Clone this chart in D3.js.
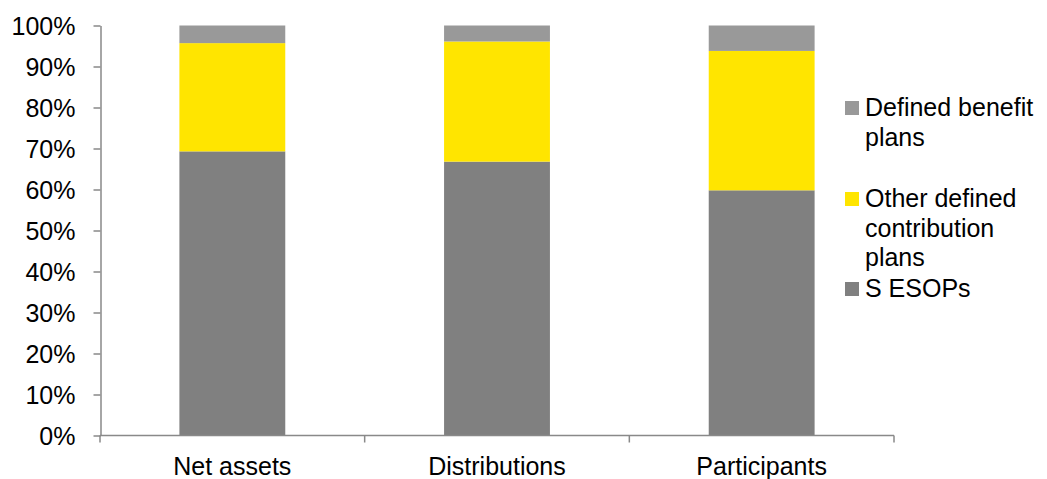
<!DOCTYPE html>
<html>
<head>
<meta charset="utf-8">
<script src="https://cdn.jsdelivr.net/npm/d3@7"></script>
<style>
  body { margin: 0; background: #fff; }
  svg { font-family: "Liberation Sans", Arial, sans-serif; }
</style>
</head>
<body>
<svg id="chart" width="1047" height="479"></svg>
<script>
// Share of each plan type, by measure (percent)
const categories = ["Net assets", "Distributions", "Participants"];
const sEsops = [69.3, 66.8, 59.8];
const otherDC = [26.4, 29.3, 34.0];
const definedBenefit = [4.3, 3.9, 6.2];
const yTicks = [0, 10, 20, 30, 40, 50, 60, 70, 80, 90, 100];

const seriesNames = ["S ESOPs", "Other defined contribution plans", "Defined benefit plans"];
const seriesColors = ["#808080", "#FFE500", "#999999"];

const rows = categories.map((c, i) => ({
  category: c,
  "S ESOPs": sEsops[i],
  "Other defined contribution plans": otherDC[i],
  "Defined benefit plans": definedBenefit[i]
}));

const svg = d3.select("#chart");
const axisColor = "#898989";
const fontSize = "25px";

const x = d3.scaleBand().domain(categories).range([100, 894]).paddingInner(0.6).paddingOuter(0.3);
const y = d3.scaleLinear().domain([0, 100]).range([435.5, 25.5]);

const layers = d3.stack().keys(seriesNames)(rows);

svg.append("g")
  .selectAll("g")
  .data(layers)
  .join("g")
  .attr("fill", (d, i) => seriesColors[i])
  .selectAll("rect")
  .data(d => d)
  .join("rect")
  .attr("x", d => x(d.data.category))
  .attr("width", x.bandwidth())
  .attr("y", d => y(d[1]))
  .attr("height", d => y(d[0]) - y(d[1]));

// Y axis
const yAxis = svg.append("g")
  .attr("transform", "translate(100.5,0)")
  .call(d3.axisLeft(y).tickValues(yTicks).tickFormat(d => d + "%").tickSize(7).tickSizeOuter(0));
yAxis.select(".domain").attr("stroke", axisColor).attr("stroke-width", 1.5);
yAxis.selectAll(".tick line").attr("stroke", axisColor).attr("stroke-width", 1.5);
yAxis.selectAll(".tick text")
  .attr("x", -25)
  .attr("dy", "0.36em")
  .attr("fill", "#000")
  .style("font-size", fontSize)
  .style("font-family", "'Liberation Sans', Arial, sans-serif");

// X axis with tick marks at band boundaries
const xAxisG = svg.append("g").attr("transform", "translate(0,435.5)");
xAxisG.append("line")
  .attr("x1", 100).attr("x2", 894)
  .attr("stroke", axisColor).attr("stroke-width", 1.5);
const step = (894 - 100) / categories.length;
const boundaries = d3.range(categories.length + 1).map(i => 100 + i * step);
xAxisG.selectAll("line.b")
  .data(boundaries)
  .join("line")
  .attr("class", "b")
  .attr("x1", d => d).attr("x2", d => d)
  .attr("y1", 0).attr("y2", 7)
  .attr("stroke", axisColor).attr("stroke-width", 1.5);
xAxisG.selectAll("text")
  .data(categories)
  .join("text")
  .attr("x", d => x(d) + x.bandwidth() / 2)
  .attr("y", 39.5)
  .attr("text-anchor", "middle")
  .style("font-size", fontSize)
  .text(d => d);

// Legend
const legendItems = [
  { color: seriesColors[2], lines: ["Defined benefit", "plans"], baseline: 116 },
  { color: seriesColors[1], lines: ["Other defined", "contribution", "plans"], baseline: 207 },
  { color: seriesColors[0], lines: ["S ESOPs"], baseline: 297 }
];
const legend = svg.append("g");
legendItems.forEach(item => {
  legend.append("rect")
    .attr("x", 845).attr("y", item.baseline - 15)
    .attr("width", 14).attr("height", 14)
    .attr("fill", item.color);
  item.lines.forEach((l, j) => {
    legend.append("text")
      .attr("x", 865)
      .attr("y", item.baseline + j * 29.5)
      .style("font-size", fontSize)
      .text(l);
  });
});
</script>
</body>
</html>
